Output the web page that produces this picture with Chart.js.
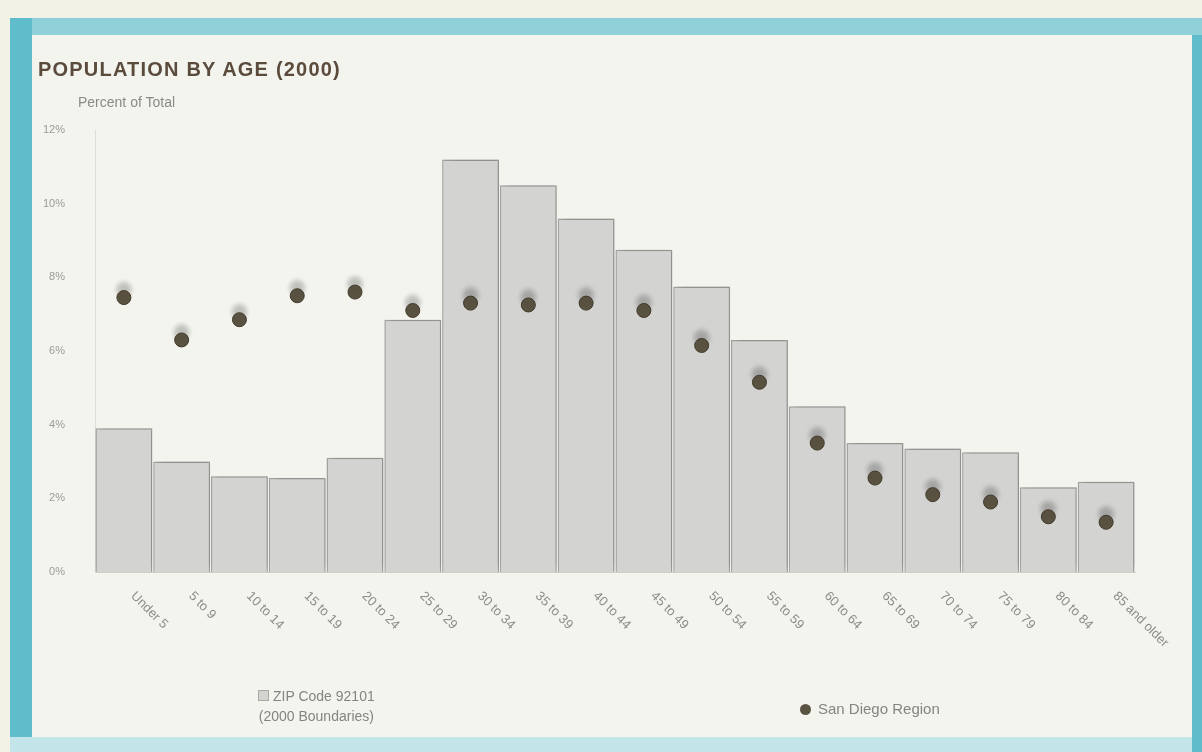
<!DOCTYPE html>
<html>
<head>
<meta charset="utf-8">
<script src="https://cdn.jsdelivr.net/npm/chart.js@4.4.0/dist/chart.umd.min.js"></script>
<style>
  html, body { margin: 0; padding: 0; }
  body {
    width: 1202px; height: 752px; overflow: hidden; position: relative;
    background: #f2f1e6; font-family: "Liberation Sans", Arial, sans-serif;
  }
  .frame-l { position: absolute; left: 10px; top: 18px; width: 22px; height: 720px; background: #5fbccb; }
  .frame-t { position: absolute; left: 32px; top: 18px; width: 1170px; height: 17px; background: #8fd0d9; }
  .frame-r { position: absolute; left: 1192px; top: 35px; width: 10px; height: 717px; background: #5fbccb; }
  .frame-b { position: absolute; left: 10px; top: 737px; width: 1182px; height: 15px; background: #c3e4e9; }
  .panel { position: absolute; left: 32px; top: 35px; width: 1160px; height: 702px; background: #f4f4ef; }
  #chart { position: absolute; left: 32px; top: 35px; width: 1160px; height: 702px; }
  .title {
    position: absolute; left: 38px; top: 58px; font-size: 20px; font-weight: bold;
    color: #5a4b3c; letter-spacing: 1.2px;
  }
  .subtitle { position: absolute; left: 78px; top: 94px; font-size: 14px; color: #8a8a86; }
  .leg1 {
    position: absolute; left: 258px; top: 686px; font-size: 14px; color: #85857f;
    text-align: center; line-height: 20px;
  }
  .leg1 .sw {
    display: inline-block; width: 9px; height: 9px; background: #d3d3d1;
    border: 1px solid #a9a9a7; margin-right: 4px; vertical-align: 0;
  }
  .leg2 { position: absolute; left: 800px; top: 700px; font-size: 15px; color: #85857f; }
  .leg2 .dot {
    display: inline-block; width: 11px; height: 11px; border-radius: 50%;
    background: #5b5342; margin-right: 7px; vertical-align: -1px;
  }
</style>
</head>
<body>
<div class="frame-l"></div><div class="frame-t"></div><div class="frame-r"></div><div class="frame-b"></div>
<div class="panel"></div>
<canvas id="chart" width="1160" height="702"></canvas>
<div class="title">POPULATION BY AGE (2000)</div>
<div class="subtitle">Percent of Total</div>
<div class="leg1"><span class="sw"></span>ZIP Code 92101<br>(2000 Boundaries)</div>
<div class="leg2"><span class="dot"></span>San Diego Region</div>

<script>
/* ---- Dados ---- */
const ageGroups = ['Under 5', '5 to 9', '10 to 14', '15 to 19', '20 to 24', '25 to 29',
  '30 to 34', '35 to 39', '40 to 44', '45 to 49', '50 to 54', '55 to 59', '60 to 64',
  '65 to 69', '70 to 74', '75 to 79', '80 to 84', '85 and older'];
const zipShare    = [3.9, 3.0, 2.6, 2.55, 3.1, 6.85, 11.2, 10.5, 9.6, 8.75, 7.75, 6.3, 4.5, 3.5, 3.35, 3.25, 2.3, 2.45];
const regionShare = [7.45, 6.3, 6.85, 7.5, 7.6, 7.1, 7.3, 7.25, 7.3, 7.1, 6.15, 5.15, 3.5, 2.55, 2.1, 1.9, 1.5, 1.35];
const yTicks = [0, 2, 4, 6, 8, 10, 12];

/* ---- Sombra nas barras e pontos ---- */
const shadowPlugin = {
  id: 'shadow',
  beforeDatasetDraw(chart, args) {
    const ctx = chart.ctx;
    ctx.save();
    if (args.index === 0) {
      ctx.shadowColor = 'rgba(0,0,0,0.18)';
      ctx.shadowBlur = 8;
      ctx.shadowOffsetX = 3;
      ctx.shadowOffsetY = -3;
    } else {
      ctx.shadowColor = 'rgba(0,0,0,0.22)';
      ctx.shadowBlur = 5;
      ctx.shadowOffsetY = -8;
    }
  },
  afterDatasetDraw(chart) {
    chart.ctx.restore();
  },
};

/* ---- Rótulos do eixo X inclinados ---- */
const slantLabels = {
  id: 'slantLabels',
  afterDraw(chart) {
    const ctx = chart.ctx;
    const xs = chart.scales.x;
    const bottom = chart.chartArea.bottom;
    ctx.save();
    ctx.font = '13px "Liberation Sans", Arial, sans-serif';
    ctx.fillStyle = '#8c8c88';
    ctx.textAlign = 'left';
    ctx.textBaseline = 'middle';
    ageGroups.forEach((lab, i) => {
      ctx.save();
      ctx.translate(xs.getPixelForValue(i) + 9, bottom + 22);
      ctx.rotate(Math.PI / 4);
      ctx.fillText(lab, 0, 0);
      ctx.restore();
    });
    ctx.restore();
  },
};

new Chart(document.getElementById('chart'), {
  data: {
    labels: ageGroups,
    datasets: [
      {
        type: 'bar',
        label: 'ZIP Code 92101',
        data: zipShare,
        backgroundColor: '#d3d3d1',
        borderColor: '#a7a7a5',
        borderWidth: 1.5,
        barPercentage: 1,
        categoryPercentage: 0.985,
        order: 1,
      },
      {
        type: 'line',
        label: 'San Diego Region',
        data: regionShare,
        showLine: false,
        pointRadius: 7,
        pointBackgroundColor: '#5b5342',
        pointBorderColor: '#40392b',
        pointBorderWidth: 1,
        order: 0,
      },
    ],
  },
  options: {
    responsive: false,
    animation: false,
    layout: { padding: { left: 0, top: 95, right: 57, bottom: 145 } },
    plugins: { legend: { display: false }, tooltip: { enabled: false } },
    scales: {
      x: {
        grid: { display: false },
        border: { color: '#cfcfcb' },
        ticks: { display: false },
        afterFit(s) { s.height = 20; },
      },
      y: {
        min: 0,
        max: 12,
        afterBuildTicks(s) { s.ticks = yTicks.map(v => ({ value: v })); },
        grid: { display: false },
        border: { color: '#dcdcd8' },
        ticks: {
          padding: 22,
          color: '#9a9a96',
          font: { family: '"Liberation Sans", Arial, sans-serif', size: 11 },
          callback: v => v + '%',
        },
        afterFit(s) { s.width = 63; },
      },
    },
  },
  plugins: [shadowPlugin, slantLabels],
});
</script>
</body>
</html>
